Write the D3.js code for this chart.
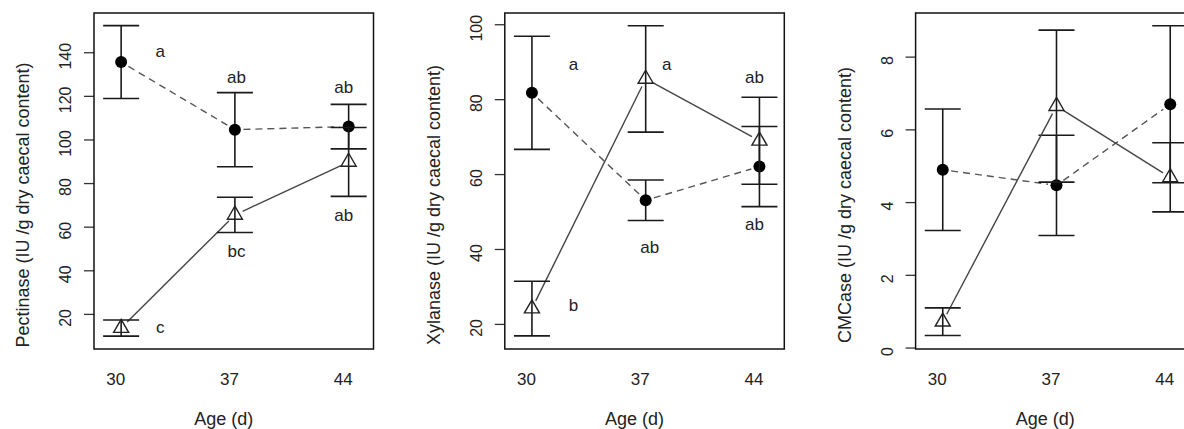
<!DOCTYPE html>
<html lang="en">
<head>
<meta charset="UTF-8" />
<title>Caecal enzyme activity by age</title>
<script src="https://d3js.org/d3.v7.min.js"></script>
<style>
  body {
    margin: 0;
    background: #fff;
  }
  svg {
    display: block;
    font-family: 'Liberation Sans', Arial, sans-serif;
  }
  text {
    fill: #222;
  }
</style>
</head>
<body>
<div id="chart"></div>
<script>
// ages on the x axis (days)
const ages = [30, 37, 44];
const ageTicks = [30, 37, 44];
const ageRange = [28.33, 45.53];

// Pectinase: filled circles (dashed) and open triangles (solid), mean and error
const pectinaseCircle = [135.5, 104.5, 105.9];
const pectinaseCircleErr = [16.7, 17.0, 10.2];
const pectinaseTriangle = [13.5, 65.4, 89.7];
const pectinaseTriangleErr = [3.7, 8.1, 15.8];
const pectinaseTicks = [20, 40, 60, 80, 100, 120, 140];
const pectinaseRange = [3.9, 158.0];
const pectinaseLetters = ["a", "c", "ab", "bc", "ab", "ab"];
const pectinaseLetterAge = [32.4, 32.4, 37.1, 37.1, 43.7, 43.7];
const pectinaseLetterY = [140.4, 14.1, 128.8, 49.0, 123.9, 65.4];

// Xylanase
const xylanaseCircle = [81.7, 53.0, 62.0];
const xylanaseCircleErr = [15.1, 5.4, 10.7];
const xylanaseTriangle = [24.1, 85.4, 68.9];
const xylanaseTriangleErr = [7.3, 14.2, 11.6];
const xylanaseTicks = [20, 40, 60, 80, 100];
const xylanaseRange = [13.3, 103.0];
const xylanaseLetters = ["a", "b", "a", "ab", "ab", "ab"];
const xylanaseLetterAge = [32.55, 32.55, 38.3, 37.25, 43.7, 43.7];
const xylanaseLetterY = [89.5, 24.9, 89.5, 40.6, 86.0, 46.6];

// CMCase
const cmcaseCircle = [4.89, 4.46, 6.69];
const cmcaseCircleErr = [1.67, 1.38, 2.16];
const cmcaseTriangle = [0.71, 6.64, 4.68];
const cmcaseTriangleErr = [0.38, 2.09, 0.95];
const cmcaseTicks = [0, 2, 4, 6, 8];
const cmcaseRange = [-0.04, 9.2];

const panels = [
  { title: "Pectinase (IU /g dry caecal content)", ticks: pectinaseTicks, range: pectinaseRange,
    circle: pectinaseCircle, circleErr: pectinaseCircleErr, tri: pectinaseTriangle, triErr: pectinaseTriangleErr,
    letters: pectinaseLetters, letterAge: pectinaseLetterAge, letterY: pectinaseLetterY },
  { title: "Xylanase (IU /g dry caecal content)", ticks: xylanaseTicks, range: xylanaseRange,
    circle: xylanaseCircle, circleErr: xylanaseCircleErr, tri: xylanaseTriangle, triErr: xylanaseTriangleErr,
    letters: xylanaseLetters, letterAge: xylanaseLetterAge, letterY: xylanaseLetterY },
  { title: "CMCase (IU /g dry caecal content)", ticks: cmcaseTicks, range: cmcaseRange,
    circle: cmcaseCircle, circleErr: cmcaseCircleErr, tri: cmcaseTriangle, triErr: cmcaseTriangleErr,
    letters: [], letterAge: [], letterY: [] }
];

const width = 1184, height = 429;
const left0 = 94, step = 410.8, panelTop = 13;
const W = 279.5, H = 336;
const capHalf = 18, gap = 8.5;

const svg = d3.select("#chart").append("svg")
  .attr("width", width)
  .attr("height", height);

svg.append("rect").attr("width", width).attr("height", height).attr("fill", "#fff");

panels.forEach((p, i) => {
  const g = svg.append("g").attr("transform", `translate(${left0 + i * step},${panelTop})`);
  const x = d3.scaleLinear().domain(ageRange).range([0, W]);
  const y = d3.scaleLinear().domain(p.range).range([H, 0]);

  // y axis, labels turned like R's default
  const ya = g.append("g")
    .call(d3.axisLeft(y).tickValues(p.ticks).tickSize(10).tickFormat(d3.format("d")))
    .attr("font-size", null).attr("font-family", null);
  ya.select(".domain").remove();
  ya.selectAll(".tick line").attr("stroke", "#333").attr("stroke-width", 1.3);
  ya.selectAll(".tick text")
    .attr("x", 0).attr("dy", "0.35em")
    .attr("transform", "translate(-28.5,3.5) rotate(-90)")
    .attr("text-anchor", "middle")
    .attr("font-size", 16);

  // x axis: labels only
  const xa = g.append("g").attr("transform", `translate(0,${H})`)
    .call(d3.axisBottom(x).tickValues(ageTicks).tickSize(0))
    .attr("font-size", null).attr("font-family", null);
  xa.select(".domain").remove();
  xa.selectAll(".tick text")
    .attr("y", 30).attr("dy", "0.35em").attr("dx", -6)
    .attr("font-size", 17);

  g.append("rect")
    .attr("width", W).attr("height", H)
    .attr("fill", "none").attr("stroke", "#111").attr("stroke-width", 1.5);

  // titles
  g.append("text")
    .attr("transform", `translate(-71,${H / 2 + 24}) rotate(-90)`)
    .attr("dy", "0.35em").attr("text-anchor", "middle").attr("font-size", 18)
    .text(p.title);
  g.append("text")
    .attr("transform", `translate(${W / 2 - 10},${H + 70})`)
    .attr("dy", "0.35em").attr("text-anchor", "middle").attr("font-size", 18)
    .text("Age (d)");

  drawSeries(g, x, y, p.circle, p.circleErr, "7,5", "circle");
  drawSeries(g, x, y, p.tri, p.triErr, null, "triangle");

  g.selectAll("text.letter")
    .data(p.letters)
    .join("text")
    .attr("class", "letter")
    .attr("x", (d, k) => x(p.letterAge[k]))
    .attr("y", (d, k) => y(p.letterY[k]))
    .attr("dy", "0.35em").attr("text-anchor", "middle").attr("font-size", 17)
    .text(d => d);
});

function drawSeries(g, x, y, vals, errs, dash, marker) {
  const pts = ages.map((a, k) => [x(a), y(vals[k])]);

  // segments stop short of the points (R type = "b")
  const segs = d3.pairs(pts).map(([p, q]) => {
    const dx = q[0] - p[0], dy = q[1] - p[1], len = Math.hypot(dx, dy);
    const ux = dx / len, uy = dy / len;
    return [p[0] + ux * gap, p[1] + uy * gap, q[0] - ux * gap, q[1] - uy * gap];
  });
  g.append("g").selectAll("line")
    .data(segs)
    .join("line")
    .attr("x1", d => d[0]).attr("y1", d => d[1])
    .attr("x2", d => d[2]).attr("y2", d => d[3])
    .attr("stroke", dash ? "#555" : "#444")
    .attr("stroke-width", 1.4)
    .attr("stroke-dasharray", dash);

  // error bars
  const eb = g.append("g").attr("stroke", "#1a1a1a").attr("stroke-width", 1.6);
  ages.forEach((a, k) => {
    const cx = x(a), y0 = y(vals[k] - errs[k]), y1 = y(vals[k] + errs[k]);
    eb.append("line").attr("x1", cx).attr("x2", cx).attr("y1", y0).attr("y2", y1);
    eb.append("line").attr("x1", cx - capHalf).attr("x2", cx + capHalf).attr("y1", y0).attr("y2", y0);
    eb.append("line").attr("x1", cx - capHalf).attr("x2", cx + capHalf).attr("y1", y1).attr("y2", y1);
  });

  if (marker === "circle") {
    g.append("g").selectAll("circle")
      .data(pts)
      .join("circle")
      .attr("cx", d => d[0]).attr("cy", d => d[1]).attr("r", 6)
      .attr("fill", "#000");
  } else {
    g.append("g").selectAll("path")
      .data(pts)
      .join("path")
      .attr("transform", d => `translate(${d[0]},${d[1]})`)
      .attr("d", d3.symbol(d3.symbolTriangle, 98))
      .attr("fill", "none").attr("stroke", "#222").attr("stroke-width", 1.4);
  }
}
</script>
</body>
</html>
